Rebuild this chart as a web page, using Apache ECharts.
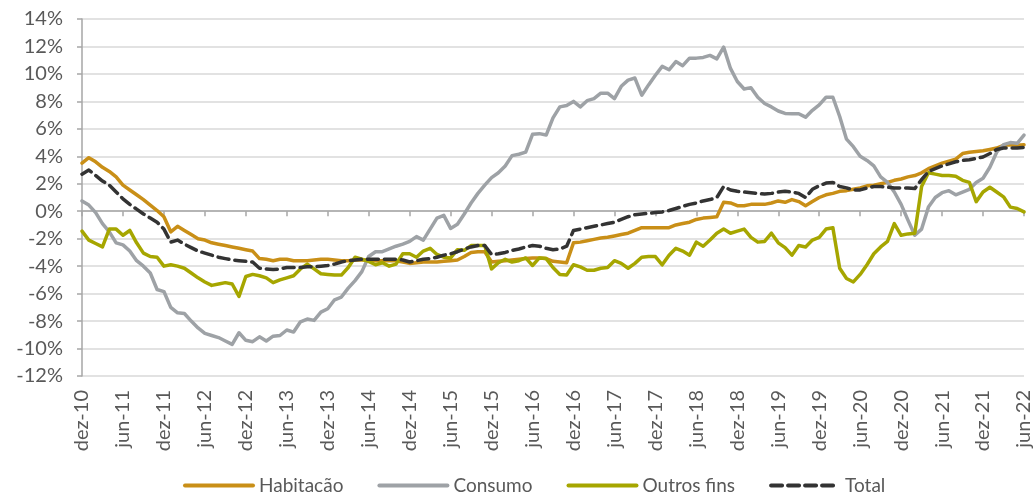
<!DOCTYPE html>
<html>
<head>
<meta charset="utf-8">
<script src="https://cdn.jsdelivr.net/npm/echarts@6.0.0/dist/echarts.min.js"></script>
<style>
  html, body { margin: 0; padding: 0; background: #fff; }
  #chart { width: 1034px; height: 494px; }
</style>
</head>
<body>
<div id="chart"></div>
<script>
// meses de dez-10 a jun-22
const mesesPt = ["jan", "fev", "mar", "abr", "mai", "jun", "jul", "ago", "set", "out", "nov", "dez"]
const categorias = []
for (let k = 0; k < 139; k++) {
  const m = (11 + k) % 12
  const ano = 10 + Math.floor((11 + k) / 12)
  categorias.push(mesesPt[m] + "-" + ano)
}

const yTicks = [-12, -10, -8, -6, -4, -2, 0, 2, 4, 6, 8, 10, 12, 14]

// taxas de variação anual (%)
const habitacao = [
  3.5, 3.9, 3.6, 3.2, 2.9, 2.5,
  1.9, 1.55, 1.2, 0.85, 0.45, 0.05,
  -0.4, -1.5, -1.1, -1.4, -1.7, -2.0,
  -2.1, -2.3, -2.4, -2.5, -2.6, -2.7,
  -2.8, -2.9, -3.45, -3.5, -3.6, -3.5,
  -3.5, -3.6, -3.6, -3.6, -3.55, -3.5,
  -3.5, -3.55, -3.6, -3.6, -3.55, -3.55,
  -3.55, -3.6, -3.6, -3.6, -3.6, -3.7,
  -3.8, -3.75, -3.7, -3.7, -3.7, -3.65,
  -3.6, -3.55, -3.3, -3.0, -2.95, -2.95,
  -3.7, -3.65, -3.6, -3.55, -3.5, -3.45,
  -3.4, -3.4, -3.45, -3.65, -3.7, -3.75,
  -2.3, -2.25, -2.15, -2.05, -1.95, -1.9,
  -1.8, -1.7, -1.6, -1.4, -1.2, -1.2,
  -1.2, -1.2, -1.2, -1.0, -0.9, -0.8,
  -0.6, -0.5, -0.45, -0.4, 0.65, 0.6,
  0.4, 0.4, 0.5, 0.5, 0.5, 0.6,
  0.75, 0.65, 0.85, 0.7, 0.4, 0.7,
  1.0, 1.2, 1.3, 1.45, 1.5, 1.6,
  1.7, 1.85, 1.9, 2.0, 2.1, 2.25,
  2.35, 2.5, 2.6, 2.8, 3.1, 3.3,
  3.5, 3.65, 3.8, 4.2, 4.3, 4.35,
  4.4, 4.5, 4.6, 4.8, 4.85, 4.8,
  4.85
]

const consumo = [
  0.75, 0.45, -0.1, -0.9, -1.5, -2.3,
  -2.45, -2.9, -3.6, -4.0, -4.5, -5.7,
  -5.85, -7.0, -7.4, -7.45, -8.0, -8.5,
  -8.9, -9.05, -9.2, -9.45, -9.7, -8.85,
  -9.4, -9.5, -9.15, -9.45, -9.1, -9.05,
  -8.65, -8.8, -8.05, -7.85, -7.95, -7.35,
  -7.1, -6.45, -6.25, -5.6, -5.05, -4.4,
  -3.3, -2.95, -2.95, -2.75, -2.55, -2.4,
  -2.2, -1.85, -2.1, -1.3, -0.5, -0.3,
  -1.25, -0.95, -0.2, 0.6, 1.3, 1.9,
  2.45, 2.8, 3.3, 4.05, 4.15, 4.3,
  5.6, 5.65, 5.55, 6.8, 7.6, 7.7,
  8.0, 7.6, 8.05, 8.2, 8.6, 8.6,
  8.2, 9.1, 9.55, 9.7, 8.45, 9.2,
  9.9, 10.55, 10.3, 10.9, 10.6, 11.15,
  11.15, 11.2, 11.35, 11.1, 11.95, 10.4,
  9.45, 8.9, 9.0, 8.3, 7.85, 7.6,
  7.3, 7.12, 7.1, 7.1, 6.85, 7.35,
  7.75, 8.3, 8.3, 6.9, 5.25, 4.7,
  4.0, 3.7, 3.3, 2.5, 2.1, 1.4,
  0.5, -0.65, -1.75, -1.3, 0.3, 1.0,
  1.35, 1.5, 1.2, 1.4, 1.6, 2.1,
  2.4, 3.2, 4.3, 4.85, 5.0, 4.95,
  5.55
]

const outrosFins = [
  -1.45, -2.1, -2.35, -2.6, -1.3, -1.3,
  -1.75, -1.4, -2.3, -3.05, -3.3, -3.35,
  -4.0, -3.9, -4.0, -4.15, -4.5, -4.85,
  -5.15, -5.4, -5.3, -5.2, -5.3, -6.2,
  -4.75, -4.6, -4.7, -4.85, -5.2, -5.0,
  -4.85, -4.7, -4.2, -3.85, -4.2, -4.55,
  -4.6, -4.65, -4.65, -4.1, -3.35, -3.5,
  -3.65, -3.9, -3.75, -4.0, -3.85, -3.1,
  -3.1, -3.35, -2.9, -2.7, -3.15, -3.35,
  -3.4, -2.8, -2.85, -2.5, -2.5, -2.5,
  -4.2, -3.75, -3.5, -3.7, -3.6, -3.4,
  -3.95, -3.4, -3.45, -4.1, -4.6, -4.65,
  -3.9, -4.05, -4.3, -4.3, -4.15, -4.1,
  -3.6, -3.8, -4.15, -3.8, -3.35, -3.3,
  -3.3, -3.9, -3.2, -2.7, -2.9, -3.2,
  -2.25, -2.55, -2.1, -1.6, -1.3, -1.6,
  -1.45, -1.3, -1.9, -2.25, -2.2, -1.6,
  -2.3, -2.65, -3.2, -2.5, -2.6, -2.1,
  -1.9, -1.3, -1.2, -4.15, -4.9, -5.15,
  -4.6, -3.9, -3.1, -2.6, -2.2, -0.9,
  -1.75, -1.65, -1.6, 1.8, 2.8, 2.7,
  2.6, 2.6, 2.55, 2.25, 2.1, 0.7,
  1.4, 1.75, 1.4, 1.05, 0.3, 0.2,
  -0.05
]

const total = [
  2.7, 3.0, 2.6, 2.2, 1.9, 1.4,
  0.9, 0.5, 0.15, -0.2, -0.5, -0.8,
  -1.3, -2.25, -2.1, -2.4, -2.65, -2.9,
  -3.05, -3.2, -3.35, -3.45, -3.55, -3.6,
  -3.65, -3.7, -4.15, -4.2, -4.25, -4.2,
  -4.1, -4.1, -4.1, -4.05, -4.05, -4.0,
  -3.95, -3.85, -3.7, -3.6, -3.55, -3.5,
  -3.5, -3.5, -3.5, -3.5, -3.5, -3.55,
  -3.7, -3.6, -3.5, -3.45, -3.35, -3.2,
  -3.1, -2.95, -2.75, -2.6, -2.5, -2.5,
  -3.15, -3.1, -3.0, -2.85, -2.75, -2.6,
  -2.5, -2.55, -2.7, -2.8, -2.75, -2.55,
  -1.4, -1.3, -1.2, -1.1, -1.0, -0.9,
  -0.8, -0.6, -0.4, -0.25, -0.2, -0.15,
  -0.1, -0.05, 0.05, 0.2, 0.35, 0.5,
  0.6, 0.75, 0.85, 1.0, 1.8, 1.55,
  1.45, 1.4, 1.35, 1.3, 1.25, 1.3,
  1.4, 1.45, 1.4, 1.3, 1.0, 1.6,
  1.85, 2.05, 2.1, 1.8, 1.7, 1.55,
  1.55, 1.7, 1.8, 1.8, 1.75, 1.7,
  1.7, 1.7, 1.65, 2.3, 2.9, 3.1,
  3.3, 3.45, 3.6, 3.7, 3.75, 3.85,
  3.95, 4.2, 4.5, 4.6, 4.6, 4.6,
  4.65
]

const fonte = "Lato, 'Noto Sans', sans-serif"
const corTexto = "#595959"

const chart = echarts.init(document.getElementById("chart"))

function linha(nome, dados, cor, tipo) {
  return {
    name: nome,
    type: "line",
    data: dados,
    symbol: "none",
    xAxisIndex: 0,
    lineStyle: { color: cor, width: 3.5, type: tipo || "solid", cap: "round", join: "round" },
    itemStyle: { color: cor },
    z: 3
  }
}

chart.setOption({
  animation: false,
  backgroundColor: "#fff",
  textStyle: { fontFamily: fonte },
  grid: { left: 82, right: 2, top: 19, bottom: 118, containLabel: false },
  legend: {
    data: ["Habitacão", "Consumo", "Outros fins", "Total"],
    left: 178,
    top: 471,
    itemWidth: 68,
    itemHeight: 14,
    itemGap: 34,
    itemStyle: { opacity: 0 },
    lineStyle: { width: 4 },
    textStyle: { fontFamily: fonte, fontSize: 19, color: corTexto, padding: [0, 0, 0, 1] }
  },
  xAxis: [
    {
      type: "category",
      data: categorias,
      boundaryGap: false,
      position: "bottom",
      axisLine: { show: false, onZero: false },
      axisTick: { show: false },
      splitLine: { show: false },
      axisLabel: {
        interval: 5,
        rotate: 90,
        margin: 14,
        fontSize: 20,
        color: corTexto,
        fontFamily: fonte
      }
    },
    {
      type: "category",
      data: categorias,
      boundaryGap: false,
      position: "bottom",
      axisLine: { show: true, onZero: true, lineStyle: { color: "#a6a6a6", width: 1.5 } },
      axisTick: { show: true, interval: 5, length: 5, lineStyle: { color: "#a6a6a6", width: 1.5 } },
      axisLabel: { show: false },
      splitLine: { show: false }
    }
  ],
  yAxis: {
    type: "value",
    min: yTicks[0],
    max: yTicks[yTicks.length - 1],
    interval: 2,
    axisLine: { show: true, lineStyle: { color: "#a6a6a6", width: 1.5 } },
    axisTick: { show: true, length: 5, lineStyle: { color: "#a6a6a6", width: 1.5 } },
    splitLine: { show: true, lineStyle: { color: "#d9d9d9", width: 1.5 } },
    axisLabel: {
      formatter: "{value}%",
      margin: 19,
      fontSize: 20,
      color: corTexto,
      fontFamily: fonte
    }
  },
  series: [
    linha("Habitacão", habitacao, "#c98f17"),
    linha("Consumo", consumo, "#9ea2a6"),
    linha("Outros fins", outrosFins, "#a6a600"),
    linha("Total", total, "#333333", [11, 6])
  ]
})
</script>
</body>
</html>
